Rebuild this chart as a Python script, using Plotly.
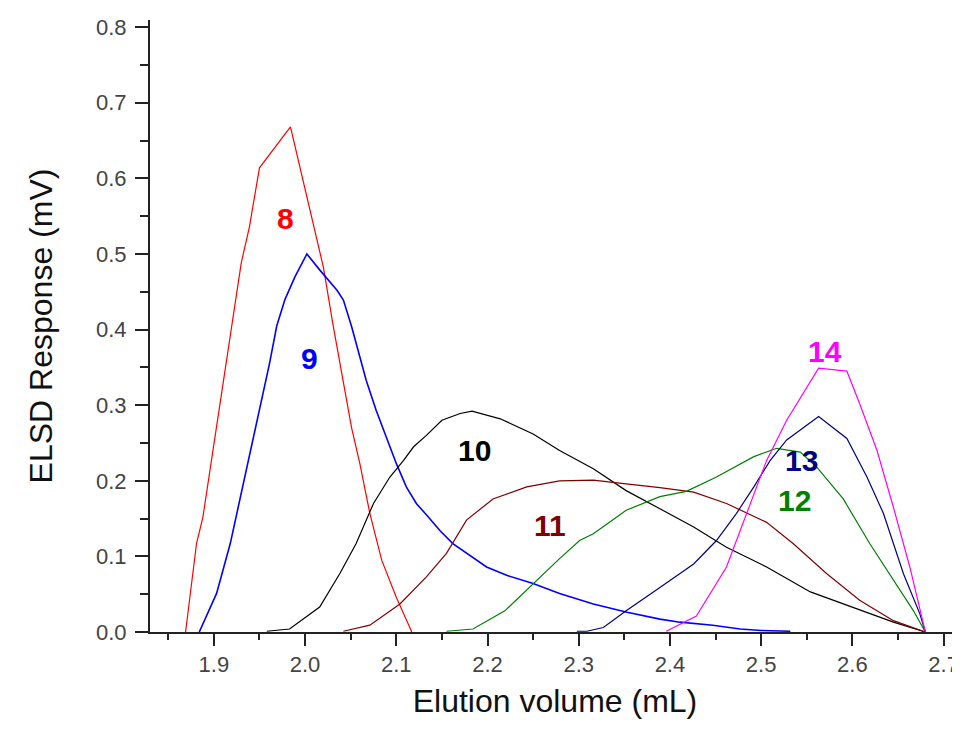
import plotly.graph_objects as go

# Elution volume (mL) / ELSD response (mV) for each fraction
x8 = [1.869, 1.881, 1.888, 1.908, 1.923, 1.930, 1.939, 1.950, 1.984, 2.000, 2.009, 2.020, 2.031, 2.040, 2.051, 2.060, 2.071, 2.084, 2.100, 2.117]
y8 = [0.0, 0.117, 0.152, 0.315, 0.435, 0.488, 0.536, 0.614, 0.668, 0.587, 0.541, 0.483, 0.404, 0.342, 0.270, 0.223, 0.157, 0.095, 0.046, 0.0]

x9 = [1.884, 1.903, 1.918, 1.929, 1.941, 1.950, 1.961, 1.969, 1.978, 1.989, 2.002, 2.016, 2.035, 2.042, 2.051, 2.060, 2.067, 2.078, 2.089, 2.100, 2.111, 2.122, 2.133, 2.148, 2.162, 2.177, 2.199, 2.221, 2.250, 2.279, 2.316, 2.353, 2.389, 2.411, 2.447, 2.477, 2.500, 2.532]
y9 = [0.0, 0.051, 0.117, 0.179, 0.245, 0.293, 0.355, 0.405, 0.440, 0.470, 0.500, 0.479, 0.452, 0.439, 0.404, 0.364, 0.333, 0.293, 0.258, 0.223, 0.192, 0.170, 0.155, 0.134, 0.117, 0.104, 0.086, 0.075, 0.064, 0.051, 0.037, 0.026, 0.017, 0.013, 0.009, 0.004, 0.002, 0.001]

x10 = [1.958, 1.983, 2.016, 2.038, 2.056, 2.075, 2.093, 2.108, 2.119, 2.133, 2.150, 2.170, 2.183, 2.214, 2.250, 2.279, 2.316, 2.352, 2.389, 2.426, 2.462, 2.506, 2.554, 2.590, 2.627, 2.645, 2.680]
y10 = [0.001, 0.004, 0.033, 0.077, 0.117, 0.170, 0.205, 0.227, 0.245, 0.260, 0.280, 0.289, 0.292, 0.282, 0.262, 0.240, 0.216, 0.187, 0.163, 0.139, 0.112, 0.086, 0.053, 0.037, 0.020, 0.013, 0.0]

x11 = [2.042, 2.071, 2.104, 2.133, 2.155, 2.177, 2.206, 2.243, 2.279, 2.316, 2.352, 2.389, 2.426, 2.462, 2.506, 2.535, 2.572, 2.608, 2.645, 2.680]
y11 = [0.001, 0.009, 0.037, 0.073, 0.104, 0.148, 0.176, 0.192, 0.200, 0.201, 0.196, 0.191, 0.185, 0.170, 0.145, 0.117, 0.077, 0.042, 0.015, 0.0]

x12 = [2.155, 2.184, 2.219, 2.250, 2.279, 2.301, 2.316, 2.331, 2.352, 2.389, 2.418, 2.451, 2.492, 2.517, 2.543, 2.561, 2.590, 2.619, 2.645, 2.667, 2.680]
y12 = [0.001, 0.004, 0.028, 0.064, 0.097, 0.121, 0.130, 0.143, 0.161, 0.179, 0.186, 0.205, 0.232, 0.243, 0.238, 0.218, 0.176, 0.117, 0.068, 0.028, 0.0]

x13 = [2.298, 2.309, 2.327, 2.352, 2.389, 2.426, 2.451, 2.473, 2.492, 2.510, 2.528, 2.563, 2.594, 2.616, 2.634, 2.656, 2.674, 2.680]
y13 = [0.001, 0.001, 0.006, 0.028, 0.059, 0.090, 0.121, 0.157, 0.192, 0.227, 0.254, 0.285, 0.256, 0.205, 0.157, 0.077, 0.024, 0.0]

x14 = [2.396, 2.415, 2.429, 2.462, 2.484, 2.506, 2.528, 2.563, 2.594, 2.608, 2.627, 2.645, 2.663, 2.680]
y14 = [0.001, 0.012, 0.021, 0.086, 0.157, 0.227, 0.280, 0.349, 0.345, 0.302, 0.240, 0.165, 0.086, 0.0]

names = ["8", "9", "10", "11", "12", "13", "14"]
xs = [x8, x9, x10, x11, x12, x13, x14]
ys = [y8, y9, y10, y11, y12, y13, y14]
colors = ["#FF0000", "#0000FF", "#000000", "#800000", "#008000", "#000080", "#FF00FF"]
widths = [1.2, 1.6, 1.2, 1.2, 1.2, 1.2, 1.2]

# label positions (data coords)
label_x = [1.978, 2.005, 2.186, 2.268, 2.537, 2.544, 2.570]
label_y = [0.547, 0.362, 0.240, 0.141, 0.174, 0.227, 0.371]

FONT = "Liberation Sans, Arial, sans-serif"

fig = go.Figure()
for n, x, y, c, w in zip(names, xs, ys, colors, widths):
    fig.add_trace(go.Scatter(x=x, y=y, mode="lines", name=n,
                             line=dict(color=c, width=w), showlegend=False))

for n, lx, ly, c in zip(names, label_x, label_y, colors):
    fig.add_annotation(x=lx, y=ly, text="<b>%s</b>" % n, showarrow=False,
                       font=dict(family=FONT, size=30, color=c),
                       xanchor="center", yanchor="middle")

# the page body adds an 8px offset, so the figure is 8px smaller than the window
fig.update_layout(
    width=952, height=730,
    margin=dict(l=142, r=0, t=12, b=106),
    paper_bgcolor="white", plot_bgcolor="white",
    font=dict(family=FONT, color="#222222"),
)
fig.update_xaxes(
    range=[1.83, 2.718], showgrid=False, zeroline=False, automargin=False,
    showline=True, linecolor="#222222", linewidth=2,
    ticks="outside", ticklen=12, tickwidth=2, tickcolor="#222222",
    dtick=0.1, tick0=1.9, tickformat=".1f", ticklabelstandoff=0,
    tickfont=dict(size=22, color="#444444"),
    minor=dict(ticks="outside", ticklen=6, tickwidth=2, tickcolor="#222222", dtick=0.05, tick0=1.85),
    title=dict(text="Elution volume (mL)", font=dict(size=32, color="#111111"), standoff=13),
)
fig.update_yaxes(
    range=[0, 0.8095], showgrid=False, zeroline=False, automargin=False,
    showline=True, linecolor="#222222", linewidth=2,
    ticks="outside", ticklen=13, tickwidth=2, tickcolor="#222222",
    dtick=0.1, tick0=0, tickformat=".1f", ticklabelstandoff=4,
    tickfont=dict(size=22, color="#444444"),
    minor=dict(ticks="outside", ticklen=8, tickwidth=2, tickcolor="#222222", dtick=0.05),
    title=dict(text="ELSD Response (mV)", font=dict(size=32, color="#111111"), standoff=34),
)

fig.write_html("out.html")
